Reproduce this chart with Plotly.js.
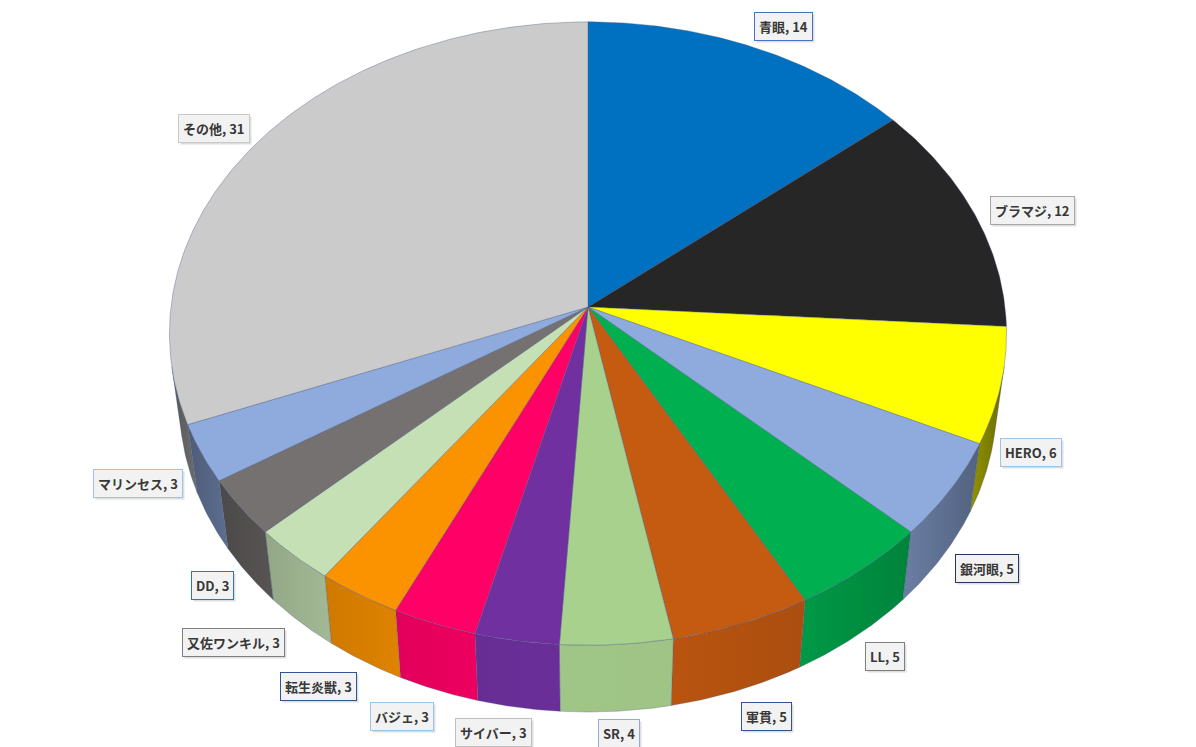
<!DOCTYPE html>
<html>
<head>
<meta charset="utf-8">
<script src="https://cdn.plot.ly/plotly-3.0.1.min.js"></script>
<style>
  html, body { margin: 0; padding: 0; background: #fff; }
  #chart { width: 1196px; height: 747px; }
</style>
</head>
<body>
<div id="chart"></div>
<script>
// deck shares (%), clockwise from 12 o'clock
var labels = ["青眼", "ブラマジ", "HERO", "銀河眼", "LL", "軍貫", "SR", "サイバー",
  "バジェ", "転生炎獣", "又佐ワンキル", "DD", "マリンセス", "その他"];
var values = [14, 12, 6, 5, 5, 5, 4, 3, 3, 3, 3, 3, 3, 31];

var colors = ["#0070C0", "#262626", "#FFFF00", "#8FAADC", "#00B050", "#C55A11", "#A9D18E",
  "#7030A0", "#FF0066", "#FB9300", "#C5E0B4", "#767171", "#8FAADC", "#CBCBCB"];
var borderColors = ["#4472C4", "#A6A6A6", "#9DC3E6", "#203864", "#7F7F7F", "#2F5597", "#8FAADC",
  "#BFBFBF", "#9DC3E6", "#2F5597", "#7F7F7F", "#2E75B6", "#9DC3E6", "#C9C9C9"];
// label box centres (px)
var labelPos = [[783, 26], [1032, 210], [1031, 452], [987, 568], [885, 656], [766, 716], [619, 733],
  [493, 732], [402, 716], [318, 686], [233, 642], [212, 585], [138, 483], [214, 128]];

// simple perspective camera for the 3D pie
var CX = 588, CY = 307, D = 7.87, F = 3282, H = 0.253;
var elev = Math.asin(0.742), ce = Math.cos(elev), se = Math.sin(elev);

function proj(X, Y, Z) {
  var depth = D + Z * ce - Y * se;
  var yc = Y * ce + Z * se;
  return [CX + F * X / depth, CY - F * yc / depth];
}
function rim(t, Y) { return proj(Math.sin(t), Y, Math.cos(t)); }

function shade(hex, f) {
  var r = parseInt(hex.substr(1, 2), 16), g = parseInt(hex.substr(3, 2), 16), b = parseInt(hex.substr(5, 2), 16);
  return "rgb(" + Math.round(r * f) + "," + Math.round(g * f) + "," + Math.round(b * f) + ")";
}
function wallFactor(t) {
  var f = 0.3 + 0.65 * (-Math.cos(t));
  return Math.max(0.3, Math.min(0.95, f));
}

var total = values.reduce(function(a, b) { return a + b; }, 0);
var tVis = Math.acos(-1 / (D * ce));  // walls facing the camera
var walls = [], tops = [], annotations = [];
var acc = 0;

for (var i = 0; i < values.length; i++) {
  var t1 = acc / total * 2 * Math.PI;
  acc += values[i];
  var t2 = acc / total * 2 * Math.PI;

  // top face
  var c = proj(0, 0, 0), xs = [c[0]], ys = [c[1]];
  var n = Math.max(4, Math.ceil((t2 - t1) / 0.01));
  for (var k = 0; k <= n; k++) {
    var p = rim(t1 + (t2 - t1) * k / n, 0);
    xs.push(p[0]); ys.push(p[1]);
  }
  xs.push(c[0]); ys.push(c[1]);
  tops.push({
    type: "scatter", mode: "lines", x: xs, y: ys, fill: "toself",
    fillcolor: colors[i], line: { color: "rgba(70,90,130,0.55)", width: 0.7 },
    hoverinfo: "text", text: labels[i] + ", " + values[i], showlegend: false
  });

  // outer wall
  var ta = Math.max(t1, tVis), tb = Math.min(t2, 2 * Math.PI - tVis);
  if (ta < tb) {
    var wx = [], wy = [];
    var m = Math.max(3, Math.ceil((tb - ta) / 0.01));
    for (k = 0; k <= m; k++) {
      p = rim(ta + (tb - ta) * k / m, 0);
      wx.push(p[0]); wy.push(p[1]);
    }
    for (k = m; k >= 0; k--) {
      p = rim(ta + (tb - ta) * k / m, -H);
      wx.push(p[0]); wy.push(p[1]);
    }
    wx.push(wx[0]); wy.push(wy[0]);
    // horizontal gradient: left end is the larger angle on the right half
    var cA = shade(colors[i], wallFactor(ta)), cB = shade(colors[i], wallFactor(tb));
    var xa = rim(ta, 0)[0], xb = rim(tb, 0)[0];
    var cl = xa < xb ? cA : cB, cr = xa < xb ? cB : cA;
    walls.push({
      type: "scatter", mode: "lines", x: wx, y: wy, fill: "toself",
      fillcolor: shade(colors[i], wallFactor((ta + tb) / 2)),
      fillgradient: { type: "horizontal", colorscale: [[0, cl], [1, cr]] },
      line: { color: "rgba(70,90,130,0.5)", width: 0.6 },
      hoverinfo: "skip", showlegend: false
    });
  }

  var txt = "<b>" + labels[i] + ", " + values[i] + "</b>";
  // drop shadow
  annotations.push({
    x: labelPos[i][0], y: labelPos[i][1], xref: "x", yref: "y", text: txt, showarrow: false,
    font: { family: "Noto Sans CJK JP", size: 13, color: "rgba(0,0,0,0)" },
    bgcolor: "rgba(0,0,0,0.13)", borderpad: 4, borderwidth: 1, bordercolor: "rgba(0,0,0,0)",
    xshift: 2, yshift: -2
  });
  annotations.push({
    x: labelPos[i][0], y: labelPos[i][1], xref: "x", yref: "y", text: txt, showarrow: false,
    font: { family: "Noto Sans CJK JP", size: 13, color: "#383838" },
    bgcolor: "#F2F2F2", borderpad: 4, borderwidth: 1, bordercolor: borderColors[i]
  });
}

var layout = {
  width: 1196, height: 747,
  margin: { l: 0, r: 0, t: 0, b: 0 },
  paper_bgcolor: "#ffffff", plot_bgcolor: "#ffffff",
  xaxis: { range: [0, 1196], visible: false, fixedrange: true },
  yaxis: { range: [747, 0], visible: false, fixedrange: true },
  annotations: annotations,
  showlegend: false
};

Plotly.newPlot("chart", walls.concat(tops), layout, { displayModeBar: false, staticPlot: true });
</script>
</body>
</html>
